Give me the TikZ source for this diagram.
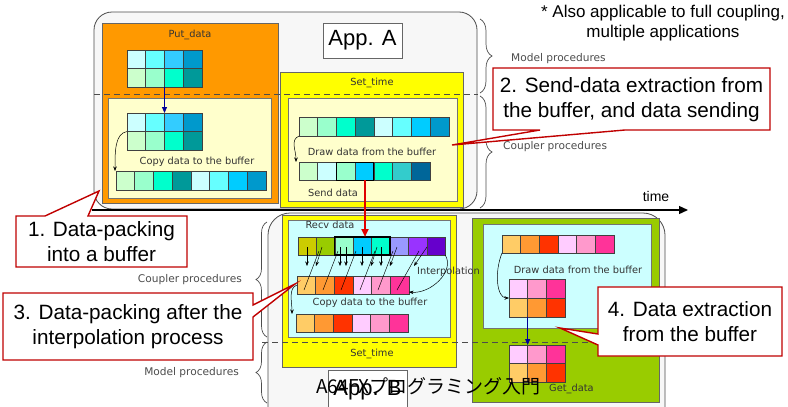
\documentclass[tikz,border=0pt]{standalone}
\usepackage{fontspec}
\setmainfont{Liberation Sans}
\newfontfamily\smallf{DejaVu Sans}
\newfontfamily\jpf{Noto Sans CJK JP}
\usetikzlibrary{arrows.meta,decorations.pathreplacing}
\definecolor{appgray}{HTML}{F7F7F7}
\definecolor{orangeF}{HTML}{FF9900}
\definecolor{yelF}{HTML}{FFFF00}
\definecolor{paleY}{HTML}{FFFFCC}
\definecolor{cyanF}{HTML}{CCFFFF}
\definecolor{greenF}{HTML}{99CC00}
\definecolor{lc1}{HTML}{CCFFFF}
\definecolor{lc2}{HTML}{66FFFF}
\definecolor{lc3}{HTML}{33CCFF}
\definecolor{lc4}{HTML}{0099CC}
\definecolor{lc5}{HTML}{00CCFF}
\definecolor{lg1}{HTML}{CCFFCC}
\definecolor{lg2}{HTML}{99FFCC}
\definecolor{lg3}{HTML}{00FFCC}
\definecolor{lg4}{HTML}{009999}
\definecolor{lt1}{HTML}{33CCCC}
\definecolor{lt2}{HTML}{006699}
\definecolor{rv1}{HTML}{CCCC00}
\definecolor{rv2}{HTML}{99CC00}
\definecolor{rv6}{HTML}{9999FF}
\definecolor{rv7}{HTML}{9933FF}
\definecolor{rv8}{HTML}{6600CC}
\definecolor{w1}{HTML}{FFCC66}
\definecolor{w2}{HTML}{FF9933}
\definecolor{w3}{HTML}{FF3300}
\definecolor{w4}{HTML}{FFCCFF}
\definecolor{w5}{HTML}{FF99CC}
\definecolor{w6}{HTML}{FF3399}
\definecolor{cellb}{HTML}{404040}
\definecolor{calred}{HTML}{C00000}
\definecolor{arrred}{HTML}{E00000}
\definecolor{navyA}{HTML}{000099}
\definecolor{lblgray}{HTML}{333333}
\definecolor{bracegray}{HTML}{4D4D4D}
\newcommand\cellrow[5]{\foreach \cc [count=\ii from 0] in {#5}{\path[draw=cellb,fill=\cc,line width=0.6pt] ({#1+\ii*#3},#2) rectangle ++(#3,#4);}}
\newcommand\bx[6]{\node[#2,minimum width={#5pt-#3pt},minimum height={#6pt-#4pt}] (#1) at ({(#3+#5)/2},{(#4+#6)/2}) {};}
\begin{document}
\begin{tikzpicture}[x=1pt,y=-1pt,
  base/.style={inner sep=0pt,outer sep=0pt},
  appbox/.style={base,draw=black!70,line width=0.8pt,fill=appgray,rounded corners=18pt},
  procbox/.style={base,draw=black!60,line width=0.6pt},
  innerbox/.style={base,draw=black!55,line width=0.6pt},
  gridn/.style={base,draw=none},
  slbl/.style={font=\smallf\fontsize{9.8}{11}\selectfont,text=lblgray,inner sep=0pt},
  blbl/.style={font=\smallf\fontsize{10.6}{12}\selectfont,text=black!70,inner sep=0pt},
  brc/.style={draw=bracegray,line width=0.7pt,decorate},
  callout/.style={draw=calred,line width=1.4pt,fill=white,line join=miter},
  ctext/.style={font=\fontsize{20.7}{25}\selectfont,align=center,inner sep=0pt},
  tagbox/.style={draw=black!60,line width=0.7pt,fill=white,font=\fontsize{22}{24}\selectfont,inner sep=0pt},
  bluearr/.style={draw=navyA,line width=0.8pt,-{Triangle[length=6pt,width=5pt]}},
  blkarr/.style={draw=black,line width=0.5pt,-{Stealth[length=4.5pt,width=3.5pt]}},
  redarr/.style={draw=arrred,line width=2.2pt,-{Triangle[length=8pt,width=7pt]}},
  dsh/.style={draw=black!70,line width=0.8pt,dash pattern=on 6pt off 4pt}]
\useasboundingbox (0,0) rectangle (788,407);
\fill[white] (0,0) rectangle (788,407);
% application frames
\bx{appA}{appbox}{94}{12}{477}{209}
\bx{appB}{appbox,rounded corners=22pt}{268}{213}{665}{430}
% braces and labels
\draw[brc,decoration={brace,amplitude=12pt}] (480,19) -- (480,93);
\draw[brc,decoration={brace,amplitude=12pt}] (480,96) -- (480,208);
\node[blbl,anchor=west] (mpA) at (511,59) {Model procedures};
\node[blbl,anchor=west] (cpA) at (503,147) {Coupler procedures};
\draw[brc,decoration={brace,amplitude=11pt}] (267,337) -- (267,222);
\draw[brc,decoration={brace,amplitude=11pt}] (267,403) -- (267,342);
\node[blbl,anchor=east] (cpB) at (242,280) {Coupler procedures};
\node[blbl,anchor=east] (mpB) at (239,373) {Model procedures};
% procedure boxes
\bx{putbox}{procbox,fill=orangeF}{102}{23}{278}{203}
\bx{putin}{innerbox,fill=paleY}{108}{98}{271}{198}
\bx{stA}{procbox,fill=yelF}{280}{72}{463}{207}
\bx{stAin}{innerbox,fill=paleY}{288}{98}{457}{201}
\bx{stB}{procbox,fill=yelF}{282}{215}{456}{367}
\bx{stBin}{innerbox,fill=cyanF}{288}{220}{450}{337}
\bx{gd}{procbox,fill=greenF}{472}{218}{659}{402}
\bx{gdin}{innerbox,fill=cyanF}{483}{224}{651}{328}
% dashed separators
\coordinate (dA1) at (94,94); \coordinate (dA2) at (478,94);
\coordinate (dB1) at (262,342); \coordinate (dB2) at (662,342);
\draw[dsh] (dA1) -- (dA2);
\draw[dsh] (dB1) -- (dB2);
% time axis
\coordinate (t0) at (92,210); \coordinate (t1) at (688,210);
\draw[line width=1.3pt,-{Triangle[length=9pt,width=8pt]}] (t0) -- (t1);
\node[font=\fontsize{14}{16}\selectfont,inner sep=0pt] (timel) at (656,196) {time};
% App tags
\node[tagbox,minimum width=79pt,minimum height=35pt] (tagA) at (362.5,40.5) {App. A};
% ---- Put_data
\node[slbl] (putl) at (190,35) {Put\_data};
\cellrow{127}{50}{18.75}{18.5}{lc1,lc2,lc3,lc4}
\cellrow{127}{68.5}{18.75}{18.5}{lg1,lg2,lg3,lg4}
\node[gridn,minimum width=75pt,minimum height=37pt] (pA) at (164.5,68.5) {};
\cellrow{127}{113}{18.75}{18.5}{lc1,lc2,lc3,lc4}
\cellrow{127}{131.5}{18.75}{18.5}{lg1,lg2,lg3,lg4}
\node[gridn,minimum width=75pt,minimum height=37pt] (pB) at (164.5,131.5) {};
\node[slbl] (copyA) at (197,162) {Copy data to the buffer};
\cellrow{116}{171}{18.75}{19}{lg1,lg2,lg3,lg4,lc1,lc2,lc5,lc4}
\node[gridn,minimum width=150pt,minimum height=19pt] (pC) at (191,180.5) {};
\draw[bluearr] (pA.south) -- (pB.north);
\draw[blkarr] (pB.west) .. controls +(-12,2) and +(0,-20) .. ([xshift=-1pt]pC.north west);
% ---- Set_time / send (App A)
\node[slbl] (setA) at (372,83) {Set\_time};
\cellrow{299}{117}{18.75}{19}{lg1,lg2,lg3,lg4,lc1,lc2,lc5,lc4}
\node[gridn,minimum width=150pt,minimum height=19pt] (sA) at (374,126.5) {};
\node[slbl] (drawA) at (372,152) {Draw data from the buffer};
\cellrow{299}{162}{18.7}{18}{lg1,lc1,lg2,lc5,lg3,lt1,lt2}
\draw[black,line width=1pt] (336.4,162) rectangle (373.8,180);
\node[gridn,minimum width=130.9pt,minimum height=18pt] (sB) at (364.45,171) {};
\node[slbl] (sendl) at (333,193) {Send data};
\draw[blkarr] (sA.south west) .. controls +(-9,4) and +(0,-12) .. ([xshift=-3pt]sB.north west);
% ---- Recv / interpolation (App B)
\node[slbl] (recvl) at (330,225) {Recv data};
\cellrow{298}{237}{18.4}{18}{rv1,rv2,lg2,lc5,lg3,rv6,rv7,rv8}
\draw[black,line width=1.1pt] (334.8,237) rectangle (390,255);
\node[gridn,minimum width=147.2pt,minimum height=18pt] (rA) at (371.6,246) {};
\cellrow{297}{276}{18.67}{18}{w1,w2,w3,w4,w5,w6}
\node[gridn,minimum width=112pt,minimum height=18pt] (rB) at (353,285) {};
\foreach \xa/\xb in {307/307,322/316,340/340,346/346,362/362,377/371,381/381,397/390,427/414}
  \draw[blkarr,line width=0.45pt] (\xa,247) -- (\xb,266);
\foreach \xa/\xb in {304/319,323/338,341/356,360/375,378/393,397/419}
  \draw[black,line width=0.45pt] (\xa,290) -- (\xb,251);
\node[slbl,anchor=west] (interp) at (417,272) {Interpolation};
\draw[blkarr] (rA.south east) .. controls +(10,16) and +(22,2) .. ([yshift=2pt]rB.south east);
\node[slbl] (copyB) at (370,303) {Copy data to the buffer};
\cellrow{296}{314}{18.67}{18}{w1,w2,w3,w4,w5,w6}
\node[gridn,minimum width=112pt,minimum height=18pt] (rC) at (352,323) {};
\draw[blkarr] (rB.west) .. controls +(-9,3) and +(0,-12) .. ([xshift=-4pt]rC.north west);
\node[slbl] (setB) at (372,354) {Set\_time};
\draw[redarr] ([xshift=66pt]sB.south west) -- ([xshift=67pt]rA.north west);
% ---- Get_data (App B)
\cellrow{502}{235}{18.67}{18}{w1,w2,w3,w4,w5,w6}
\node[gridn,minimum width=112pt,minimum height=18pt] (gA) at (558,244) {};
\node[slbl] (drawB) at (578,270) {Draw data from the buffer};
\cellrow{509}{279}{18.67}{19}{w4,w5,w6}
\cellrow{509}{298}{18.67}{19}{w1,w2,w3}
\node[gridn,minimum width=56pt,minimum height=38pt] (gB) at (537,298) {};
\cellrow{509}{345}{18.67}{18.5}{w4,w5,w6}
\cellrow{509}{363.5}{18.67}{18.5}{w1,w2,w3}
\node[gridn,minimum width=56pt,minimum height=37pt] (gC) at (537,363.5) {};
\draw[blkarr] (gA.south west) .. controls +(-8,20) and +(-12,0) .. (gB.west);
\draw[bluearr] ([xshift=18.67pt]gB.south west) -- ([xshift=18.67pt]gC.north west);
\node[slbl,anchor=west] (getl) at (549,389) {Get\_data};
% ---- callouts
\draw[callout] (16,216) -- (45,216) -- (99,191) -- (88,216) -- (187,216) -- (187,267) -- (16,267) -- cycle;
\node[ctext] (c1) at (101.5,242) {1. Data-packing\\into a buffer};
\draw[callout] (493,68) -- (770,68) -- (770,130) -- (625,130) -- (452,145) -- (540,130) -- (493,130) -- cycle;
\node[ctext] (c2) at (631.5,99.5) {2. Send-data extraction from\\the buffer, and data sending};
\draw[callout] (3,293) -- (253,293) -- (253,305) -- (295,284) -- (253,317) -- (253,360) -- (3,360) -- cycle;
\node[ctext] (c3) at (128,327) {3. Data-packing after the\\interpolation process};
\draw[callout] (598,287) -- (782,287) -- (782,356) -- (598,356) -- (598,345) -- (560,328) -- (598,334) -- cycle;
\node[ctext] (c4) at (690,322) {4. Data extraction\\from the buffer};
% note
\node[font=\fontsize{17}{20}\selectfont,align=center,inner sep=0pt] (note) at (663,23) {* Also applicable to full coupling,\\multiple applications};
% App B tag and footer overlay
\node[tagbox,minimum width=79pt,minimum height=40pt] (tagB) at (367.5,390) {App. B};
\node[font=\jpf\fontsize{19}{21}\selectfont,anchor=west,inner sep=0pt] (footer) at (316,386) {A64FXプログラミング入門};
\end{tikzpicture}
\end{document}
